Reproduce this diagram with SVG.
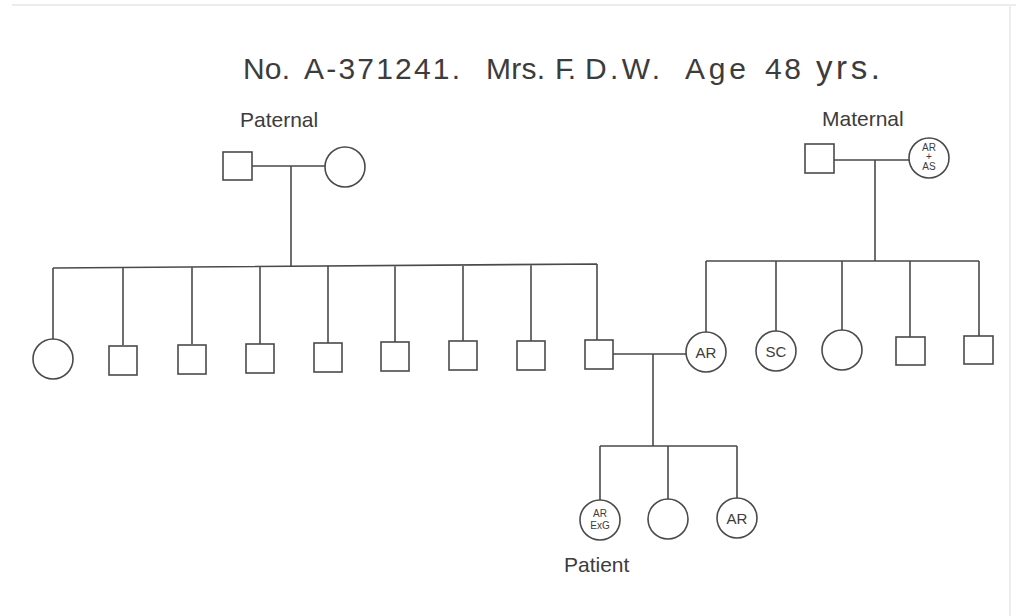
<svg xmlns="http://www.w3.org/2000/svg" width="1016" height="616" viewBox="0 0 1016 616">
<style>
.ln{stroke:#4a4a4a;stroke-width:1.6;fill:none}
.m{fill:#fff;stroke:#4a4a4a;stroke-width:1.6}
.t{font-family:"Liberation Sans",Arial,sans-serif;fill:#3c3c3c}
.lbl{font-size:21px}
.in{font-size:15px;text-anchor:middle}
.sm{font-size:10px;text-anchor:middle}
</style>
<rect x="0" y="0" width="1016" height="616" fill="#fff"/>
<path d="M12 5 H1016 M1010 5 V616" stroke="#ececec" stroke-width="2" fill="none"/>
<text id="title" class="t" y="79" font-size="30"><tspan x="243" textLength="47" lengthAdjust="spacing">No.</tspan><tspan x="304" textLength="156" lengthAdjust="spacing">A-371241.</tspan><tspan x="486" textLength="59" lengthAdjust="spacing">Mrs.</tspan><tspan x="555" textLength="21" lengthAdjust="spacing">F.</tspan><tspan x="585" textLength="75" lengthAdjust="spacing">D.W.</tspan><tspan x="685" textLength="61" lengthAdjust="spacing">Age</tspan><tspan x="765" textLength="36" lengthAdjust="spacing">48</tspan><tspan x="816" textLength="64" lengthAdjust="spacing" font-size="33">yrs.</tspan></text>
<text id="lbl-paternal" class="t lbl" x="240" y="127">Paternal</text>
<text id="lbl-maternal" class="t lbl" x="822" y="126">Maternal</text>
<text id="lbl-patient" class="t lbl" x="564" y="572">Patient</text>
<g id="connectors">
<path class="ln" d="M252 166 H325 M291 166 V267"/>
<path class="ln" d="M53 268 L597 264 M53 268 V340 M123 267.5 V345 M192 267 V344 M260 266.5 V344 M328 266 V343 M395 265.5 V342 M463 265 V341 M531 264.5 V341 M597 264 V340"/>
<path class="ln" d="M613 354 H686 M653 354 V446 M600 446 H737 M600 446 V500 M668 446 V499 M737 446 V498"/>
<path class="ln" d="M834 160 H909 M875 160 V261 M706 261 H979 M706 261 V332 M776 261 V331 M842 261 V330 M910 261 V337 M979 261 V336"/>
</g>
<g id="pat-father"><rect class="m" x="223" y="152" width="29" height="28"/></g>
<g id="pat-mother"><circle class="m" cx="345" cy="167" r="20"/></g>
<g id="mat-father"><rect class="m" x="805" y="144" width="29" height="29"/></g>
<g id="mat-mother"><circle class="m" cx="929" cy="158" r="20"/>
<text class="t sm" x="929" y="151">AR</text><text class="t sm" x="929" y="160" font-size="7">+</text><text class="t sm" x="929" y="170">AS</text></g>
<g id="p1"><circle class="m" cx="53" cy="359" r="20"/></g>
<g id="p2"><rect class="m" x="109" y="346" width="28" height="29"/></g>
<g id="p3"><rect class="m" x="178" y="345" width="28" height="29"/></g>
<g id="p4"><rect class="m" x="246" y="344" width="28" height="29"/></g>
<g id="p5"><rect class="m" x="314" y="343" width="28" height="29"/></g>
<g id="p6"><rect class="m" x="381" y="342" width="28" height="29"/></g>
<g id="p7"><rect class="m" x="449" y="341" width="28" height="29"/></g>
<g id="p8"><rect class="m" x="517" y="341" width="28" height="29"/></g>
<g id="father"><rect class="m" x="585" y="340" width="28" height="29"/></g>
<g id="mother"><circle class="m" cx="706" cy="352" r="20"/><text class="t in" x="706" y="358">AR</text></g>
<g id="m2"><circle class="m" cx="776" cy="351" r="20"/><text class="t in" x="776" y="357">SC</text></g>
<g id="m3"><circle class="m" cx="842" cy="350" r="20"/></g>
<g id="m4"><rect class="m" x="896" y="337" width="29" height="28"/></g>
<g id="m5"><rect class="m" x="964" y="336" width="29" height="28"/></g>
<g id="patient"><circle class="m" cx="600" cy="520" r="20"/>
<text class="t sm" x="600" y="517" font-size="11">AR</text><text class="t sm" x="600" y="529" font-size="10">ExG</text></g>
<g id="c2"><circle class="m" cx="668" cy="519" r="20"/></g>
<g id="c3"><circle class="m" cx="737" cy="518" r="20"/><text class="t in" x="737" y="524">AR</text></g>
</svg>
